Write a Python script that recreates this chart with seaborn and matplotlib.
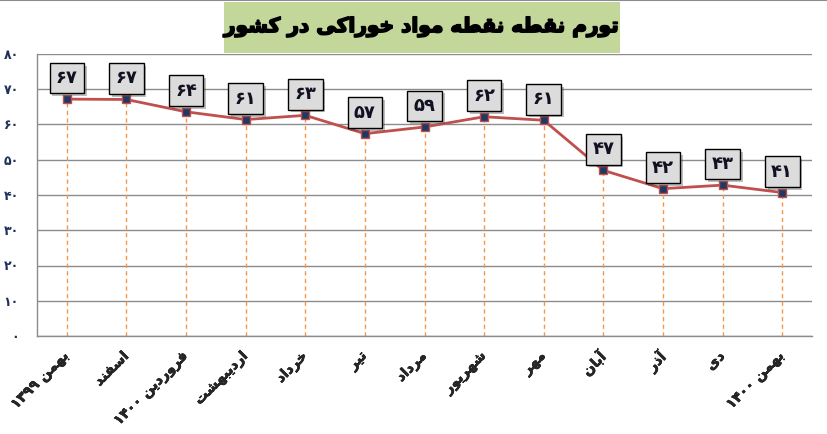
import numpy as np
import pandas as pd
import seaborn as sns
import matplotlib.pyplot as plt
import matplotlib.patheffects as pe
from matplotlib import font_manager, ft2font
from matplotlib.patches import Rectangle
from matplotlib.lines import Line2D

# --- داده ها ---
months = ['بهمن ۱۳۹۹', 'اسفند', 'فروردین ۱۴۰۰', 'اردیبهشت', 'خرداد', 'تیر', 'مرداد',
          'شهریور', 'مهر', 'آبان', 'آذر', 'دی', 'بهمن ۱۴۰۰']
inflation = [67.2, 67.1, 63.6, 61.4, 62.6, 57.4, 59.3, 62.2, 61.2, 47.0, 41.8, 42.8, 40.7]
point_labels = [67, 67, 64, 61, 63, 57, 59, 62, 61, 47, 42, 43, 41]
y_ticks = [0, 10, 20, 30, 40, 50, 60, 70, 80]
title = 'تورم نقطه نقطه مواد خوراکی در کشور'

sns.set_style("white")
plt.rcParams['font.family'] = ['DejaVu Sans']

# --- شکل دادن حروف فارسی (matplotlib خودش این کار را نمی کند) ---
fp = font_manager.FontProperties(family='DejaVu Sans', weight='bold')
ftf = ft2font.FT2Font(font_manager.findfont(fp))
has = lambda c: ftf.get_char_index(c) != 0

def forms(*codes):
    return ''.join(chr(c) for c in codes)

DUAL = {
    'ب': forms(0xFE8F, 0xFE90, 0xFE91, 0xFE92),
    'ت': forms(0xFE95, 0xFE96, 0xFE97, 0xFE98),
    'خ': forms(0xFEA5, 0xFEA6, 0xFEA7, 0xFEA8),
    'س': forms(0xFEB1, 0xFEB2, 0xFEB3, 0xFEB4),
    'ش': forms(0xFEB5, 0xFEB6, 0xFEB7, 0xFEB8),
    'ط': forms(0xFEC1, 0xFEC2, 0xFEC3, 0xFEC4),
    'ف': forms(0xFED1, 0xFED2, 0xFED3, 0xFED4),
    'ق': forms(0xFED5, 0xFED6, 0xFED7, 0xFED8),
    'م': forms(0xFEE1, 0xFEE2, 0xFEE3, 0xFEE4),
    'ن': forms(0xFEE5, 0xFEE6, 0xFEE7, 0xFEE8),
    'ه': forms(0xFEE9, 0xFEEA, 0xFEEB, 0xFEEC),
    'ک': forms(0xFB8E, 0xFB8F, 0xFB90, 0xFB91) if has(0xFB8E) else forms(0xFED9, 0xFEDA, 0xFEDB, 0xFEDC),
    'ی': forms(0xFBFC, 0xFBFD, 0xFBFE, 0xFBFF) if has(0xFBFC) else forms(0xFEEF, 0xFEF0, 0xFEF3, 0xFEF4),
}
RIGHT = {
    'ا': forms(0xFE8D, 0xFE8E),
    'آ': forms(0xFE81, 0xFE82),
    'د': forms(0xFEA9, 0xFEAA),
    'ذ': forms(0xFEAB, 0xFEAC),
    'ر': forms(0xFEAD, 0xFEAE),
    'و': forms(0xFEED, 0xFEEE),
}

def shape_word(w):
    out = []
    for i, c in enumerate(w):
        prev = w[i - 1] if i > 0 else None
        nxt = w[i + 1] if i + 1 < len(w) else None
        jp = prev in DUAL
        if c in DUAL:
            jn = nxt in DUAL or nxt in RIGHT
            f = DUAL[c]
            out.append(f[3] if jp and jn else f[1] if jp else f[2] if jn else f[0])
        elif c in RIGHT:
            out.append(RIGHT[c][1] if jp else RIGHT[c][0])
        else:
            out.append(c)
    return ''.join(reversed(out))

def fa(text):
    words = []
    for w in text.split(' '):
        if all('۰' <= c <= '۹' for c in w):
            words.append(w)
        else:
            words.append(shape_word(w))
    return ' '.join(reversed(words))

def fa_num(n):
    return ''.join('۰۱۲۳۴۵۶۷۸۹'[int(d)] for d in str(n))

df = pd.DataFrame({'month': months, 'value': inflation})
df['x'] = np.arange(len(df))

fig = plt.figure(figsize=(8.27, 4.34), dpi=100)
ax = fig.add_axes([37 / 827, 1 - 336 / 434, 775 / 827, 282 / 434])

# خطوط عمودی نارنجی
ax.vlines(df['x'], 0, df['value'], colors='#F79646', linestyles=(0, (3, 2.5)), lw=1, zorder=2)

sns.lineplot(data=df, x='x', y='value', color='#C0504D', lw=2, marker='s', markersize=6,
             markerfacecolor='#1F3864', markeredgecolor='#C0504D', markeredgewidth=1,
             ax=ax, zorder=4)

for x, v, lab in zip(df['x'], df['value'], point_labels):
    ann = ax.annotate(fa_num(lab), (x, v), xytext=(0, 21), textcoords='offset pixels',
                      ha='center', va='center', fontsize=13, fontweight='bold', color='#111122',
                      bbox=dict(boxstyle='square,pad=0.35', fc='#DCDCDC', ec='black', lw=1),
                      zorder=6)
    ann.get_bbox_patch().set_path_effects([pe.SimplePatchShadow(offset=(2, -2), alpha=0.35),
                                           pe.Normal()])

ax.set_xlim(-0.5, len(df) - 0.5)
ax.set_ylim(0, 80)
ax.set_yticks(y_ticks)
ax.set_yticklabels([fa_num(t) for t in y_ticks], fontsize=9, fontweight='bold', color='#1F2F5A')
ax.yaxis.grid(True, color='#8C8C8C', lw=1)
ax.set_axisbelow(True)

ax.set_xticks(df['x'])
ax.set_xticklabels([fa(m) for m in df['month']], rotation=45, ha='right', va='center',
                   rotation_mode='anchor', fontsize=10, fontweight='bold')
for t in ax.get_xticklabels():
    t.set_path_effects([pe.withStroke(linewidth=0.4, foreground='black')])
ax.set_xticks(np.arange(-0.5, len(df), 1), minor=True)
ax.tick_params(axis='x', which='major', length=0, pad=13)
ax.tick_params(axis='x', which='minor', length=5, color='#8C8C8C', direction='out')
ax.tick_params(axis='y', length=5, color='#8C8C8C', direction='out', pad=8)
ax.set_xlabel('')
ax.set_ylabel('')

for s in ['top', 'right']:
    ax.spines[s].set_visible(False)
for s in ['left', 'bottom']:
    ax.spines[s].set_color('#8C8C8C')
    ax.spines[s].set_linewidth(1)

# عنوان در کادر سبز
fig.patches.append(Rectangle((224 / 827, 1 - 53 / 434), 396 / 827, 51 / 434,
                             transform=fig.transFigure, fc='#C4D79B', ec='none', zorder=0))
fig.text(422 / 827, 1 - 27 / 434, fa(title), ha='center', va='center',
         fontsize=14.5, fontweight='bold', color='black',
         path_effects=[pe.withStroke(linewidth=1.2, foreground='black')])
fig.lines.append(Line2D([0, 1], [0.999, 0.999], transform=fig.transFigure, color='#8C8C8C', lw=1.5))

fig.savefig('out.png', dpi=100)
